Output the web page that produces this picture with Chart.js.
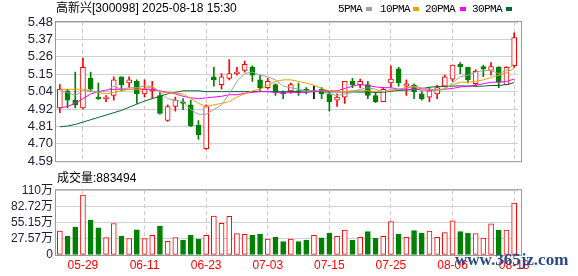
<!DOCTYPE html>
<html>
<head>
<meta charset="utf-8">
<title>高新兴 日K线</title>
<script src="https://cdn.jsdelivr.net/npm/chart.js@4.4.1/dist/chart.umd.min.js"></script>
<style>
    body { margin: 0; background: #fff; }
    #wrap { position: relative; width: 578px; height: 276px; overflow: hidden; font-family: 'Liberation Sans', 'Noto Sans CJK SC', sans-serif; }
    #wrap canvas { position: absolute; left: 0; }
    #kline { top: 0; }
    #vol { top: 180px; }
    .txt { position: absolute; font-size: 12px; line-height: 14px; color: #000; white-space: nowrap; }
    .lg { position: absolute; top: 2px; font-family: 'Liberation Mono', monospace; font-size: 11px; letter-spacing: -0.6px; line-height: 14px; color: #000; }
    .sw { position: absolute; top: 7px; width: 6px; height: 4px; }
    #mark { position: absolute; left: 455px; top: 251px; font-family: 'Liberation Serif', serif; font-weight: bold; font-size: 17px; line-height: 18px; color: #2b4a86; }
</style>
</head>
<body>
<div id="wrap">
    <canvas id="kline" width="578" height="172"></canvas>
    <canvas id="vol" width="578" height="96"></canvas>
    <div class="txt" id="title" style="left:56px; top:1px;"></div>
    <div class="txt" id="volTitle" style="left:57px; top:171px;"></div>
    <div id="legend"></div>
    <div id="mark">www.365jz.com</div>
</div>
<script>
'use strict';

/**
 *
 * Daily candlestick chart for 高新兴 [300098] with moving averages and a
 * volume panel underneath, drawn with two Chart.js charts.
 *
 **/

// Header text:
var stockName = '高新兴[300098]';
var stampText = '2025-08-18 15:30';
var lastVolume = '883494';

// Trading days (60 sessions):
var dates = ['05-26', '05-27', '05-28', '05-29', '05-30', '06-03', '06-04', '06-05', '06-06', '06-09',
    '06-10', '06-11', '06-12', '06-13', '06-16', '06-17', '06-18', '06-19', '06-20', '06-23',
    '06-24', '06-25', '06-26', '06-27', '06-30', '07-01', '07-02', '07-03', '07-04', '07-07',
    '07-08', '07-09', '07-10', '07-11', '07-14', '07-15', '07-16', '07-17', '07-18', '07-21',
    '07-22', '07-23', '07-24', '07-25', '07-28', '07-29', '07-30', '07-31', '08-01', '08-04',
    '08-05', '08-06', '08-07', '08-08', '08-11', '08-12', '08-13', '08-14', '08-15', '08-18'];
var tickDates = ['05-29', '06-11', '06-23', '07-03', '07-15', '07-25', '08-06', '08-18'];

// Prices:
var open = [4.93, 5.04, 4.98, 4.93, 5.12, 5.00, 4.99, 5.01, 5.13, 5.09,
    5.10, 5.02, 5.04, 5.01, 4.85, 4.94, 4.97, 4.95, 4.82, 4.67,
    5.13, 5.08, 5.12, 5.15, 5.17, 5.19, 5.11, 5.06, 5.08, 5.03,
    5.04, 5.04, 5.05, 5.035, 5.05, 5.02, 4.98, 5.00, 5.10, 5.08,
    5.08, 5.01, 4.97, 5.09, 5.18, 5.07, 5.075, 5.02, 5.00, 5.02,
    5.07, 5.115, 5.21, 5.19, 5.085, 5.195, 5.17, 5.19, 5.08, 5.20];
var high = [5.08, 5.05, 5.16, 5.25, 5.16, 5.09, 5.01, 5.13, 5.13, 5.13,
    5.11, 5.11, 5.10, 5.03, 4.95, 5.00, 4.99, 4.98, 4.85, 4.95,
    5.19, 5.15, 5.24, 5.19, 5.23, 5.20, 5.14, 5.12, 5.085, 5.04,
    5.09, 5.09, 5.06, 5.07, 5.06, 5.03, 5.02, 5.10, 5.12, 5.115,
    5.10, 5.03, 5.06, 5.20, 5.19, 5.11, 5.085, 5.035, 5.06, 5.075,
    5.14, 5.205, 5.22, 5.19, 5.175, 5.205, 5.22, 5.195, 5.195, 5.41];
var low = [4.90, 4.93, 4.93, 4.925, 5.035, 4.985, 4.97, 4.98, 5.04, 5.06,
    4.96, 5.00, 4.99, 4.89, 4.845, 4.91, 4.92, 4.81, 4.73, 4.665,
    5.07, 5.05, 5.11, 5.14, 5.16, 5.10, 5.04, 5.05, 5.01, 4.99,
    5.025, 5.01, 5.02, 4.99, 4.99, 4.91, 4.94, 4.96, 5.06, 5.06,
    4.99, 4.965, 4.97, 5.065, 5.07, 5.01, 4.99, 4.98, 4.97, 4.99,
    5.065, 5.10, 5.15, 5.09, 5.07, 5.13, 5.14, 5.06, 5.08, 5.19];
var close = [5.05, 4.98, 4.95, 5.19, 5.05, 4.99, 5.00, 5.11, 5.08, 5.11,
    5.02, 5.05, 5.05, 4.895, 4.94, 4.98, 4.96, 4.815, 4.76, 4.94,
    5.11, 5.13, 5.15, 5.16, 5.21, 5.14, 5.06, 5.10, 5.03, 5.02,
    5.08, 5.03, 5.04, 5.035, 5.02, 4.97, 5.00, 5.10, 5.08, 5.10,
    5.01, 4.97, 5.05, 5.115, 5.09, 5.085, 5.035, 4.99, 5.04, 5.06,
    5.13, 5.205, 5.195, 5.11, 5.165, 5.18, 5.195, 5.095, 5.19, 5.38];

// Moving average lines:
var ma5 = [5.04, 5.03, 5.01, 5.04, 5.04, 5.03, 5.04, 5.07, 5.05, 5.06,
    5.06, 5.07, 5.07, 5.03, 4.99, 4.98, 4.97, 4.92, 4.89, 4.89,
    4.92, 4.95, 5.02, 5.10, 5.15, 5.16, 5.14, 5.13, 5.11, 5.07,
    5.06, 5.05, 5.04, 5.04, 5.04, 5.02, 5.01, 5.02, 5.03, 5.05,
    5.06, 5.05, 5.03, 5.05, 5.05, 5.06, 5.07, 5.06, 5.05, 5.04,
    5.05, 5.09, 5.13, 5.14, 5.16, 5.17, 5.17, 5.15, 5.17, 5.21];
var ma10 = [5.05, 5.05, 5.05, 5.05, 5.04, 5.03, 5.02, 5.03, 5.04, 5.05,
    5.05, 5.055, 5.065, 5.035, 5.025, 5.025, 5.02, 4.99, 4.96, 4.94,
    4.95, 4.96, 4.97, 5.00, 5.02, 5.04, 5.05, 5.075, 5.10, 5.11,
    5.11, 5.10, 5.09, 5.075, 5.055, 5.04, 5.035, 5.035, 5.04, 5.045,
    5.04, 5.035, 5.035, 5.04, 5.05, 5.06, 5.065, 5.055, 5.05, 5.045,
    5.055, 5.08, 5.095, 5.095, 5.10, 5.11, 5.125, 5.14, 5.155, 5.185];
var ma20 = [4.93, 4.94, 4.96, 4.99, 5.02, 5.035, 5.045, 5.05, 5.05, 5.05,
    5.05, 5.05, 5.05, 5.04, 5.03, 5.02, 5.005, 4.995, 4.99, 4.995,
    5.00, 5.005, 5.015, 5.015, 5.025, 5.03, 5.035, 5.035, 5.03, 5.025,
    5.03, 5.03, 5.03, 5.035, 5.04, 5.04, 5.04, 5.055, 5.07, 5.08,
    5.075, 5.065, 5.06, 5.06, 5.05, 5.05, 5.05, 5.045, 5.045, 5.045,
    5.05, 5.055, 5.065, 5.07, 5.075, 5.085, 5.095, 5.095, 5.10, 5.115];
var ma30 = [4.81, 4.815, 4.825, 4.84, 4.855, 4.87, 4.885, 4.90, 4.915, 4.935,
    4.955, 4.975, 4.99, 5.005, 5.02, 5.03, 5.04, 5.04, 5.04, 5.035,
    5.035, 5.035, 5.035, 5.035, 5.035, 5.035, 5.035, 5.035, 5.035, 5.034,
    5.035, 5.037, 5.04, 5.035, 5.034, 5.033, 5.033, 5.033, 5.033, 5.032,
    5.032, 5.03, 5.03, 5.037, 5.042, 5.045, 5.048, 5.054, 5.063, 5.067,
    5.068, 5.07, 5.072, 5.07, 5.069, 5.07, 5.074, 5.074, 5.08, 5.092];

// Volume in 万股, and whether the bar is drawn as a rising (red) day:
var volume = [40.8, 31.8, 47.7, 101.8, 58.9, 46.1, 29.7, 53.6, 31.8, 28.1,
    43.0, 28.1, 33.4, 49.3, 23.3, 29.7, 25.5, 33.4, 27.0, 33.4,
    66.3, 54.1, 65.8, 36.6, 35.0, 33.4, 35.5, 27.0, 30.2, 22.8,
    27.0, 22.8, 25.5, 33.4, 29.2, 37.1, 31.8, 42.4, 25.5, 30.2,
    39.8, 28.6, 31.8, 56.7, 35.5, 30.2, 41.4, 37.1, 40.8, 30.2,
    38.2, 58.3, 39.8, 37.1, 36.6, 28.6, 53.0, 42.4, 42.4, 88.35];
var volUp = [1, 0, 0, 1, 0, 0, 1, 1, 0, 1,
    0, 1, 1, 0, 1, 1, 0, 0, 0, 1,
    1, 1, 1, 1, 1, 0, 0, 1, 0, 0,
    1, 0, 0, 1, 0, 0, 1, 1, 0, 1,
    0, 0, 1, 1, 0, 1, 0, 0, 1, 1,
    1, 1, 0, 0, 1, 1, 1, 0, 1, 1];

// Axis ticks:
var priceTickLabels = ['4.59', '4.70', '4.81', '4.92', '5.04', '5.15', '5.26', '5.37', '5.48'];
var volTickLabels = ['0', '27.57万', '55.15万', '82.72万', '110万'];
var maLabels = ['5PMA', '10PMA', '20PMA', '30PMA'];

// Styling:
var PRICE_MIN = 4.59;
var PRICE_MAX = 5.48;
var VOL_MAX = 110.3;
var RED = '#ff0000';
var GREEN = '#008000';
var maColors = ['#a0a0a0', '#f0a000', '#ff00ff', '#006a2e'];
var GRID = '#d0d0d0';
var AXIS_TEXT = '#1c1c3c';

Chart.defaults.font.family = "'Liberation Sans', 'Noto Sans CJK SC', sans-serif";
Chart.defaults.animation = false;

// Header and legend text:
document.getElementById('title').textContent = stockName + ' ' + stampText;
document.getElementById('volTitle').textContent = '成交量:' + lastVolume;

var legendTextX = [338, 380, 425, 472];
var legendSwatchX = [366, 413, 460, 506];
var legendBox = document.getElementById('legend');
maLabels.forEach(function (name, i) {
    var t = document.createElement('div');
    t.className = 'lg';
    t.style.left = legendTextX[i] + 'px';
    t.textContent = name;
    legendBox.appendChild(t);

    var s = document.createElement('div');
    s.className = 'sw';
    s.style.left = legendSwatchX[i] + 'px';
    s.style.background = maColors[i];
    legendBox.appendChild(s);
});

// Helper: candle colour from open/close:
var candleColor = function candleColor(i) {
    if (close[i] > open[i]) return RED;
    if (close[i] < open[i]) return GREEN;
    return '#000000';
};

var bodyBorder = dates.map(function (d, i) { return candleColor(i); });
var bodyFill = dates.map(function (d, i) { return close[i] > open[i] ? '#ffffff' : candleColor(i); });
var bodies = dates.map(function (d, i) { return [open[i], close[i]]; });
var wicks = dates.map(function (d, i) { return [low[i], high[i]]; });

// Plot frame, slightly wider on the right than the bar area:
var framePlugin = {
    id: 'frame',
    afterDraw: function (chart) {
        var a = chart.chartArea;
        var ctx = chart.ctx;
        ctx.save();
        ctx.strokeStyle = '#999999';
        ctx.lineWidth = 1;
        ctx.strokeRect(a.left - 0.5, a.top - 0.5, a.right - a.left + 4, a.bottom - a.top + 1);
        ctx.restore();
    }
};

// Shared x axis grid: dashed lines only on the labelled dates:
var xGrid = {
    offset: false,
    drawTicks: false,
    color: function (ctx) {
        return tickDates.indexOf(dates[ctx.index]) >= 0 ? '#c8c8c8' : 'rgba(0,0,0,0)';
    }
};

var fixWidth = function fixWidth(scale) { scale.width = 56; };

// Price chart:
var maSets = [ma5, ma10, ma20, ma30].map(function (series, i) {
    return {
        type: 'line',
        label: maLabels[i],
        data: series,
        borderColor: maColors[i],
        borderWidth: 1,
        pointRadius: 0,
        tension: 0,
        order: 0
    };
});

new Chart(document.getElementById('kline'), {
    type: 'bar',
    data: {
        labels: dates,
        datasets: maSets.concat([{
            label: 'body',
            data: bodies,
            backgroundColor: bodyFill,
            borderColor: bodyBorder,
            borderWidth: 1,
            borderSkipped: false,
            barThickness: 5,
            minBarLength: 1,
            grouped: false,
            order: 5
        }, {
            label: 'wick',
            data: wicks,
            backgroundColor: bodyBorder,
            borderWidth: 0,
            barThickness: 1,
            grouped: false,
            order: 6
        }])
    },
    plugins: [framePlugin],
    options: {
        responsive: false,
        devicePixelRatio: 1,
        layout: { padding: { top: 22, right: 60, bottom: 6, left: 0 } },
        plugins: { legend: { display: false }, tooltip: { enabled: false } },
        scales: {
            x: {
                offset: true,
                grid: xGrid,
                border: { display: false, dash: [4, 3] },
                ticks: { display: false, autoSkip: false },
                afterFit: function (scale) { scale.height = 0; }
            },
            y: {
                min: PRICE_MIN,
                max: PRICE_MAX,
                grid: { color: GRID, drawTicks: false },
                border: { display: false },
                ticks: {
                    autoSkip: false,
                    color: AXIS_TEXT,
                    font: { size: 13 },
                    padding: 3,
                    callback: function (value, index) { return priceTickLabels[index]; }
                },
                afterBuildTicks: function (scale) {
                    scale.ticks = priceTickLabels.map(function (t, i) {
                        return { value: PRICE_MIN + (PRICE_MAX - PRICE_MIN) * i / (priceTickLabels.length - 1) };
                    });
                },
                afterFit: fixWidth
            }
        }
    }
});

// Volume chart:
new Chart(document.getElementById('vol'), {
    type: 'bar',
    data: {
        labels: dates,
        datasets: [{
            label: '成交量',
            data: volume,
            backgroundColor: volUp.map(function (u) { return u ? '#ffffff' : GREEN; }),
            borderColor: volUp.map(function (u) { return u ? RED : GREEN; }),
            borderWidth: 1,
            borderSkipped: false,
            barThickness: 5
        }]
    },
    plugins: [framePlugin],
    options: {
        responsive: false,
        devicePixelRatio: 1,
        layout: { padding: { top: 6, right: 60, bottom: 0, left: 0 } },
        plugins: { legend: { display: false }, tooltip: { enabled: false } },
        scales: {
            x: {
                offset: true,
                grid: xGrid,
                border: { display: false, dash: [4, 3] },
                ticks: {
                    autoSkip: false,
                    maxRotation: 0,
                    padding: 3,
                    color: RED,
                    font: { size: 12 },
                    callback: function (value) {
                        var d = this.getLabelForValue(value);
                        return tickDates.indexOf(d) >= 0 ? d : '';
                    }
                },
                afterFit: function (scale) { scale.height = 21; }
            },
            y: {
                min: 0,
                max: VOL_MAX,
                grid: { color: GRID, drawTicks: false },
                border: { display: false },
                ticks: {
                    autoSkip: false,
                    color: AXIS_TEXT,
                    font: { size: 12 },
                    padding: 3,
                    callback: function (value, index) { return volTickLabels[index]; }
                },
                afterBuildTicks: function (scale) {
                    scale.ticks = volTickLabels.map(function (t, i) {
                        return { value: VOL_MAX * i / (volTickLabels.length - 1) };
                    });
                },
                afterFit: fixWidth
            }
        }
    }
});
</script>
</body>
</html>
